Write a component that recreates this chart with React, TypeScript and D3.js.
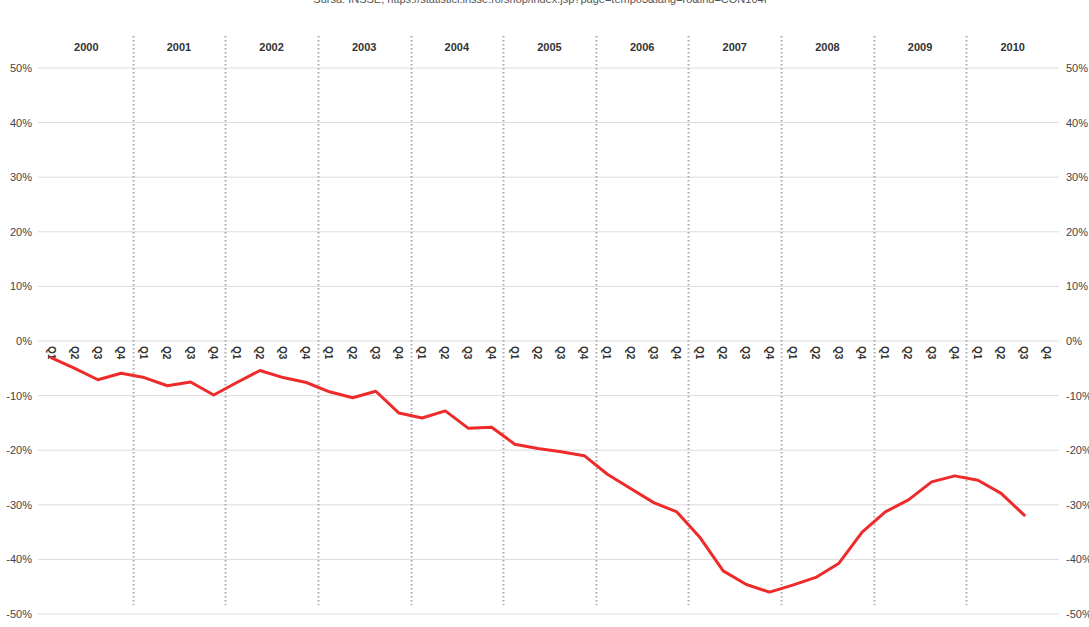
import React from "react";
import * as d3 from "d3";

const years = ["2000", "2001", "2002", "2003", "2004", "2005", "2006", "2007", "2008", "2009", "2010"];
const quarters = ["Q1", "Q2", "Q3", "Q4"];
const values: (number | null)[] = [
  // 2000
  -3.1, -5.0, -7.1, -5.9,
  // 2001
  -6.7, -8.2, -7.5, -9.9,
  // 2002
  -7.6, -5.4, -6.7, -7.6,
  // 2003
  -9.3, -10.4, -9.2, -13.2,
  // 2004
  -14.1, -12.8, -16.0, -15.8,
  // 2005
  -18.9, -19.7, -20.3, -21.0,
  // 2006
  -24.4, -27.0, -29.6, -31.3,
  // 2007
  -36.0, -42.1, -44.6, -46.0,
  // 2008
  -44.7, -43.3, -40.7, -35.0,
  // 2009
  -31.3, -29.1, -25.8, -24.7,
  // 2010
  -25.5, -27.9, -31.9, null,
];
const yTicks = [50, 40, 30, 20, 10, 0, -10, -20, -30, -40, -50];
const sourceText = "Sursa: INSSE, https://statistici.insse.ro/shop/index.jsp?page=tempo3&lang=ro&ind=CON104I";

const W = 1089;
const H = 627;
const left = 40;
const right = 1059;
const top = 68;
const bottom = 614;

export default function App() {
  const keys = years.flatMap((y) => quarters.map((q) => `${y}-${q}`));
  const x = d3.scaleBand<string>().domain(keys).range([left, right]);
  const xYear = d3.scaleBand<string>().domain(years).range([left, right]);
  const y = d3.scaleLinear().domain([-50, 50]).range([bottom, top]);

  const pts = keys.map((k, i) => ({ k, v: values[i] }));
  const line = d3
    .line<{ k: string; v: number | null }>()
    .defined((d) => d.v !== null)
    .x((d) => (x(d.k) as number) + x.bandwidth() / 2)
    .y((d) => y(d.v as number));

  const font = "Arial, 'Liberation Sans', sans-serif";

  return (
    <div style={{ position: "absolute", left: 0, top: 0 }}>
      <svg width={W} height={H} style={{ display: "block", background: "#fff" }} fontFamily={font}>
        <text x={540} y={3} textAnchor="middle" fontSize={11} fill="#555">
          {sourceText}
        </text>
        {yTicks.map((t) => (
          <g key={t}>
            <line x1={left - 2} x2={right} y1={y(t)} y2={y(t)} stroke="#dcdcdc" strokeWidth={1} />
            <text x={32} y={y(t) + 4} textAnchor="end" fontSize={11} fill="#444">
              {t}%
            </text>
            <text x={1066} y={y(t) + 4} textAnchor="start" fontSize={11} fill="#444">
              {t}%
            </text>
          </g>
        ))}
        {years.slice(1).map((yr) => {
          const xx = Math.round(xYear(yr) as number) + 0.5;
          return (
            <line
              key={yr}
              x1={xx}
              x2={xx}
              y1={36}
              y2={605}
              stroke="#aaa"
              strokeWidth={2}
              strokeDasharray="1.5,2.5"
            />
          );
        })}
        {years.map((yr) => (
          <text
            key={yr}
            x={(xYear(yr) as number) + xYear.bandwidth() / 2}
            y={51}
            textAnchor="middle"
            fontSize={11}
            fontWeight="bold"
            fill="#333"
          >
            {yr}
          </text>
        ))}
        {keys.map((k) => {
          const cx = (x(k) as number) + x.bandwidth() / 2;
          const q = k.split("-")[1];
          return (
            <text
              key={k}
              transform={`translate(${cx - 4},${346}) rotate(90)`}
              fontSize={10}
              fontWeight="bold"
              fill="#333"
              textAnchor="start"
            >
              {q}
            </text>
          );
        })}
        <path
          d={line(pts) || ""}
          fill="none"
          stroke="#ee2b2b"
          strokeWidth={3}
          strokeLinejoin="round"
          strokeLinecap="round"
        />
      </svg>
    </div>
  );
}
